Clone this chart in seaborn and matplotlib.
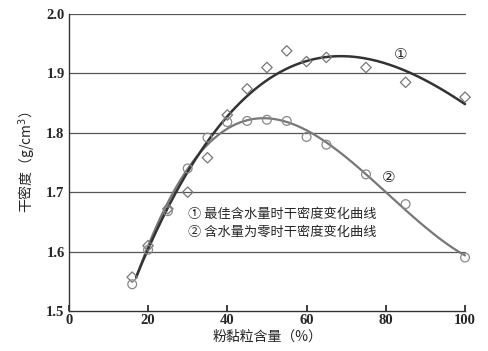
import matplotlib
matplotlib.use("Agg")
import matplotlib.pyplot as plt
import numpy as np
import pandas as pd
import seaborn as sns

# 粉黏粒含量 (%)
clay = [16, 20, 25, 30, 35, 40, 45, 50, 55, 60, 65, 75, 85, 100]
# ① 最佳含水量时干密度
rho_opt = [1.557, 1.610, 1.672, 1.700, 1.758, 1.830, 1.874, 1.910, 1.938, 1.920, 1.927, 1.910, 1.885, 1.860]
# ② 含水量为零时干密度
rho_dry = [1.545, 1.603, 1.668, 1.740, 1.792, 1.818, 1.820, 1.822, 1.820, 1.793, 1.780, 1.730, 1.680, 1.590]

sns.set_theme(style="white")
plt.rcParams['font.family'] = ['Liberation Serif', 'Noto Sans CJK SC', 'DejaVu Sans']
plt.rcParams['axes.unicode_minus'] = False

df = pd.DataFrame({"clay": clay, "opt": rho_opt, "dry": rho_dry})

fig = plt.figure(figsize=(4.88, 3.51), dpi=100)
ax = fig.add_axes([0.141, 0.114, 0.816, 0.846])

# trend lines (cubic fit of the measured points)
xs = np.linspace(17, 100, 200)
fit1 = np.polyval(np.polyfit(df["clay"], df["opt"], 3), xs)
fit2 = np.polyval(np.polyfit(df["clay"], df["dry"], 3), xs)

for y in [1.6, 1.7, 1.8, 1.9, 2.0]:
    ax.plot([0, 100], [y, y], color="#555555", lw=0.9, zorder=1)

sns.lineplot(x=xs, y=fit2, color="#777777", lw=1.6, ax=ax, zorder=3)
sns.lineplot(x=xs, y=fit1, color="#333333", lw=1.8, ax=ax, zorder=4)
sns.scatterplot(data=df, x="clay", y="opt", marker="D", s=28, facecolors="none",
                edgecolor="#777777", linewidth=0.9, ax=ax, zorder=5, clip_on=False)
sns.scatterplot(data=df, x="clay", y="dry", marker="o", s=40, facecolors="none",
                edgecolor="#888888", linewidth=0.9, ax=ax, zorder=5, clip_on=False)

ax.text(82, 1.932, "①", fontsize=11, family=['DejaVu Sans'], ha="left", va="center")
ax.text(79, 1.724, "②", fontsize=11, family=['DejaVu Sans'], ha="left", va="center")
ax.text(30, 1.663, "① 最佳含水量时干密度变化曲线", fontsize=9.5,
        family=['Noto Sans CJK SC', 'DejaVu Sans'], va="center")
ax.text(30, 1.633, "② 含水量为零时干密度变化曲线", fontsize=9.5,
        family=['Noto Sans CJK SC', 'DejaVu Sans'], va="center")

ax.set_xlim(0, 100.5)
ax.set_ylim(1.5, 2.0)
ax.set_xticks([0, 20, 40, 60, 80, 100])
ax.set_yticks([1.5, 1.6, 1.7, 1.8, 1.9, 2.0])
ax.set_yticklabels(["1.5", "1.6", "1.7", "1.8", "1.9", "2.0"])
ax.tick_params(axis="x", direction="in", length=4, labelsize=10.5, pad=2, bottom=True)
ax.tick_params(axis="y", length=0, labelsize=10.5, pad=3)
for t in ax.get_xticklabels() + ax.get_yticklabels():
    t.set_fontweight("bold")

for s in ["top", "right"]:
    ax.spines[s].set_visible(False)
for s in ["left", "bottom"]:
    ax.spines[s].set_color("#333333")
    ax.spines[s].set_linewidth(1.0)
ax.spines["bottom"].set_bounds(0, 100)

ax.set_xlabel("粉黏粒含量（%）", fontsize=10, family=['Noto Sans CJK SC', 'DejaVu Sans'], labelpad=2)
ax.set_ylabel("干密度（g/cm$^3$）", fontsize=10, family=['Noto Sans CJK SC', 'DejaVu Sans'], labelpad=6)

fig.savefig("out.png", dpi=100)
